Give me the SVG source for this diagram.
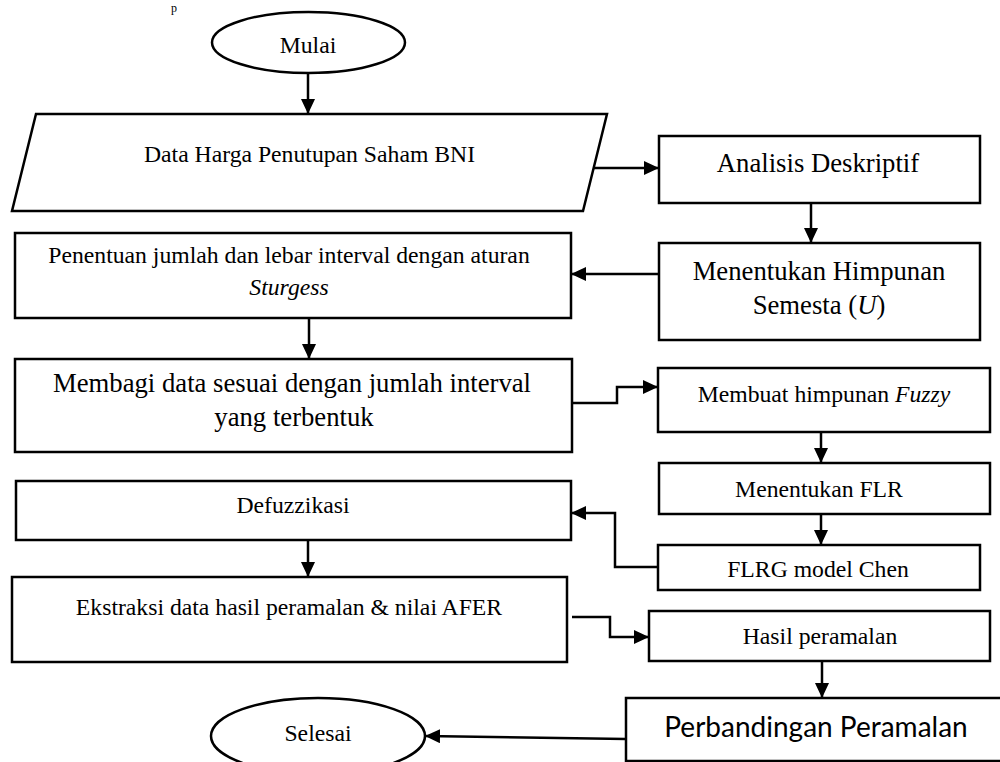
<svg xmlns="http://www.w3.org/2000/svg" width="1000" height="762" viewBox="0 0 1000 762">
<style>
.s{fill:#fff;stroke:#000;stroke-width:2.5}
.t{font-family:"Liberation Serif","Times New Roman",serif;font-size:23.7px;fill:#000;text-anchor:middle}
.L{font-size:26.7px}
.c{stroke:#000;stroke-width:2.5;fill:none;marker-end:url(#ah)}
</style>
<defs>
<marker id="ah" markerUnits="userSpaceOnUse" markerWidth="16" markerHeight="15" refX="15" refY="7" orient="auto">
<path d="M0,0 L15,7 L0,14 z" fill="#000"/>
</marker>
</defs>
<text class="t" x="174" y="11.5" style="font-size:12px">p</text>
<g id="connectors">
<path class="c" d="M308,73 V114"/>
<path class="c" d="M592,168 H659"/>
<path class="c" d="M811,203 V243"/>
<path class="c" d="M659,274 H571"/>
<path class="c" d="M309,318 V359"/>
<path class="c" d="M572,403 H617 V387 H658"/>
<path class="c" d="M821,432 V463"/>
<path class="c" d="M821,514 V545"/>
<path class="c" d="M658,567 H615 V513 H571"/>
<path class="c" d="M308,540 V577"/>
<path class="c" d="M572,617 H610 V637 H649"/>
<path class="c" d="M822,661 V698"/>
<path class="c" d="M626,739 L425,736"/>
</g>
<g id="mulai"><ellipse class="s" cx="308.5" cy="42.5" rx="96.5" ry="30.5"/><text class="t" x="308" y="53">Mulai</text></g>
<g id="data"><polygon class="s" points="36,114 607,114 583,211 12,211"/><text class="t" x="309.5" y="162">Data Harga Penutupan Saham BNI</text></g>
<g id="analisis"><rect class="s" x="659" y="136" width="321" height="67"/><text class="t L" x="818" y="172">Analisis Deskriptif</text></g>
<g id="semesta"><rect class="s" x="659" y="243" width="321" height="97"/><text class="t L" x="819" y="280">Menentukan Himpunan</text><text class="t L" x="819" y="314">Semesta (<tspan font-style="italic">U</tspan>)</text></g>
<g id="penentuan"><rect class="s" x="15" y="233" width="556" height="85"/><text class="t" x="289" y="263">Penentuan jumlah dan lebar interval dengan aturan</text><text class="t" x="289" y="295" font-style="italic">Sturgess</text></g>
<g id="membagi"><rect class="s" x="15" y="359" width="557" height="93"/><text class="t L" x="292" y="392">Membagi data sesuai dengan jumlah interval</text><text class="t L" x="294" y="426">yang terbentuk</text></g>
<g id="fuzzy"><rect class="s" x="658" y="368" width="332" height="64"/><text class="t" x="824" y="402">Membuat himpunan <tspan font-style="italic">Fuzzy</tspan></text></g>
<g id="flr"><rect class="s" x="659" y="463" width="331" height="51"/><text class="t" x="819" y="497">Menentukan FLR</text></g>
<g id="flrg"><rect class="s" x="658" y="545" width="322" height="45"/><text class="t" x="818" y="577">FLRG model Chen</text></g>
<g id="defuzz"><rect class="s" x="16" y="481" width="555" height="59"/><text class="t" x="293" y="513">Defuzzikasi</text></g>
<g id="ekstraksi"><rect class="s" x="12" y="577" width="555" height="85"/><text class="t" x="289" y="615">Ekstraksi data hasil peramalan &amp; nilai AFER</text></g>
<g id="hasil"><rect class="s" x="649" y="611" width="341" height="50"/><text class="t" x="820" y="644">Hasil peramalan</text></g>
<g id="perbandingan"><rect class="s" x="626" y="698" width="380" height="63"/><text x="816" y="737" style="font-family:Lato,'Open Sans',sans-serif;font-size:28px;text-anchor:middle;fill:#000">Perbandingan Peramalan</text></g>
<g id="selesai"><ellipse class="s" cx="318" cy="736" rx="107" ry="38"/><text class="t" x="318" y="741">Selesai</text></g>
</svg>
